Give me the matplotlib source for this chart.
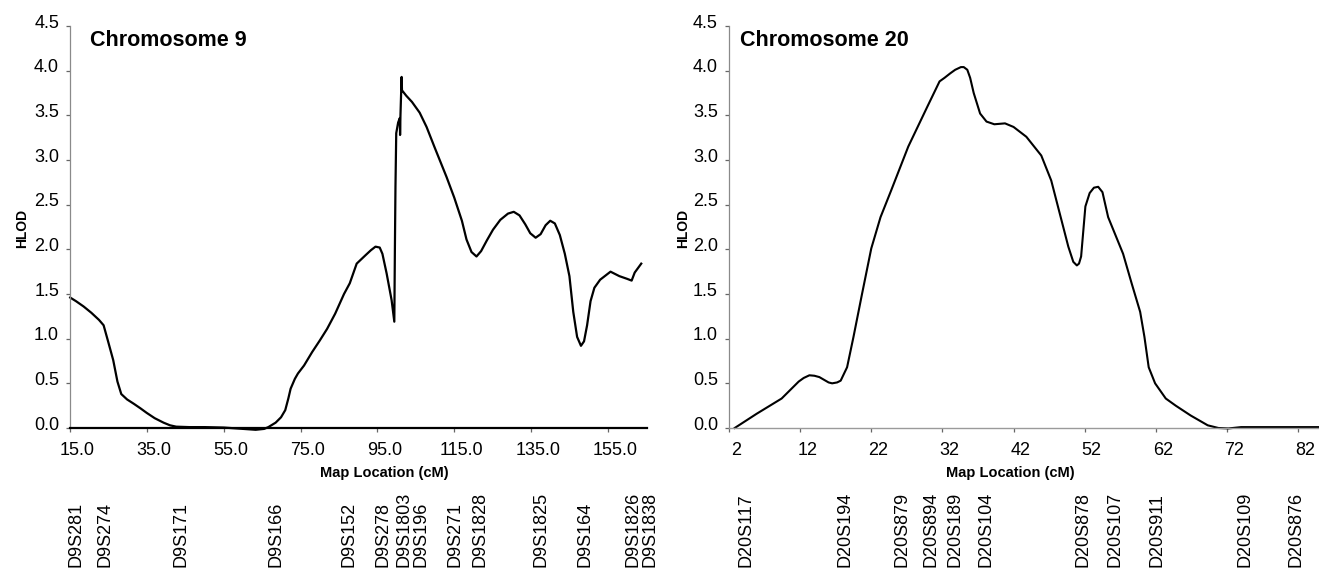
import matplotlib
matplotlib.use("Agg")
import matplotlib.pyplot as plt
from matplotlib.transforms import ScaledTranslation, blended_transform_factory

plt.rcParams['font.family'] = ['Liberation Sans', 'DejaVu Sans']

# ---------------- data ----------------
chr9_x = [15.0, 16.5, 18.5, 20.5, 22.5, 23.7, 24.8, 26.2, 27.3, 28.3, 29.8, 31.6, 33.3, 34.9,
          37.0, 39.3, 41.0, 42.6, 46.0, 50.0, 55.0, 60.0, 63.3, 65.5, 66.6, 68.5, 69.9, 71.0,
          71.8, 72.4, 73.5, 74.3, 75.9, 78.0, 80.0, 81.9, 84.0, 86.3, 87.8, 89.6, 91.8, 93.3,
          94.5, 95.6, 96.3, 97.4, 98.7, 99.40, 99.55, 99.70, 99.90, 100.40, 100.84, 100.90,
          101.00, 101.30, 101.40, 102.5, 104.0, 106.0, 107.8, 110.0, 113.0, 115.0, 117.0,
          118.2, 119.5, 120.8, 122.0, 123.5, 125.1, 127.0, 129.0, 130.5, 132.0, 133.5, 134.8,
          136.2, 137.5, 138.8, 140.0, 141.2, 142.5, 143.8, 145.0, 146.0, 147.0, 148.0, 148.8,
          149.6, 150.5, 151.5, 153.0, 155.7, 158.0, 160.0, 161.2, 162.0, 163.7]
chr9_y = [1.46, 1.42, 1.36, 1.29, 1.21, 1.15, 0.98, 0.76, 0.52, 0.38, 0.32, 0.27, 0.22, 0.17,
          0.11, 0.06, 0.03, 0.015, 0.01, 0.01, 0.005, -0.01, -0.02, -0.01, 0.01, 0.06, 0.12, 0.20,
          0.33, 0.44, 0.55, 0.61, 0.70, 0.85, 0.98, 1.11, 1.28, 1.50, 1.62, 1.84, 1.93, 1.99,
          2.03, 2.02, 1.95, 1.73, 1.43, 1.19, 2.00, 2.70, 3.30, 3.42, 3.47, 3.28,
          3.50, 3.93, 3.78, 3.72, 3.65, 3.53, 3.37, 3.13, 2.81, 2.58, 2.32,
          2.11, 1.97, 1.92, 1.98, 2.10, 2.22, 2.33, 2.40, 2.42, 2.38, 2.28, 2.18,
          2.13, 2.17, 2.27, 2.32, 2.29, 2.16, 1.95, 1.70, 1.30, 1.02, 0.92, 0.97,
          1.15, 1.42, 1.57, 1.66, 1.75, 1.70, 1.67, 1.65, 1.74, 1.84]

chr20_x = [2.8, 5.9, 9.4, 11.8, 12.5, 13.3, 14.0, 14.7, 16.0, 16.5, 17.2, 17.7, 18.6, 19.5,
           20.7, 22.0, 23.3, 24.8, 27.2, 29.9, 31.6, 32.3, 33.1, 33.8, 34.6, 35.0, 35.5, 35.9,
           36.4, 37.3, 38.2, 39.3, 40.8, 42.0, 43.8, 45.9, 47.3, 48.5, 49.7, 50.4, 50.9, 51.2,
           51.5, 52.1, 52.7, 53.3, 53.9, 54.5, 55.3, 57.4, 58.6, 59.8, 60.4, 61.0, 61.9, 63.4,
           64.8, 66.9, 69.3, 70.8, 72.2, 74.0, 85.0]
chr20_y = [0.0, 0.16, 0.33, 0.52, 0.56, 0.59, 0.585, 0.57, 0.51, 0.50, 0.51, 0.53, 0.68, 1.02,
           1.50, 2.01, 2.36, 2.66, 3.15, 3.60, 3.88, 3.92, 3.97, 4.01, 4.04, 4.04, 4.01, 3.92,
           3.75, 3.52, 3.43, 3.40, 3.41, 3.37, 3.26, 3.05, 2.77, 2.40, 2.03, 1.86, 1.82, 1.84,
           1.92, 2.48, 2.63, 2.69, 2.70, 2.64, 2.36, 1.95, 1.62, 1.30, 1.02, 0.68, 0.50, 0.33,
           0.25, 0.14, 0.03, 0.0, -0.005, 0.01, 0.01]

chr9_markers = ['D9S281', 'D9S274', 'D9S171', 'D9S166', 'D9S152', 'D9S278', 'D9S1803',
                'D9S196', 'D9S271', 'D9S1828', 'D9S1825', 'D9S164', 'D9S1826', 'D9S1838']
chr9_marker_pos = [16.5, 24.1, 43.9, 68.6, 87.6, 96.4, 101.9, 106.3, 115.2, 121.7,
                   137.5, 149.0, 161.5, 165.9]

chr20_markers = ['D20S117', 'D20S194', 'D20S879', 'D20S894', 'D20S189', 'D20S104',
                 'D20S878', 'D20S107', 'D20S911', 'D20S109', 'D20S876']
chr20_marker_pos = [4.4, 18.3, 26.3, 30.4, 33.8, 38.1, 51.8, 56.3, 62.2, 74.6, 81.7]

chr9_xticks = [15, 35, 55, 75, 95, 115, 135, 155]
chr9_xticklabels = ['15.0', '35.0', '55.0', '75.0', '95.0', '115.0', '135.0', '155.0']
chr20_xticks = [2, 12, 22, 32, 42, 52, 62, 72, 82]
chr20_xticklabels = ['2', '12', '22', '32', '42', '52', '62', '72', '82']
yticks = [0.0, 0.5, 1.0, 1.5, 2.0, 2.5, 3.0, 3.5, 4.0, 4.5]

# ---------------- figure ----------------
W, H = 1319, 569
fig = plt.figure(figsize=(W / 100, H / 100), dpi=100)


def px_box(x0, x1, ytop, ybot):
    return [x0 / W, 1 - ybot / H, (x1 - x0) / W, (ybot - ytop) / H]


def style_axes(ax, xlim, xticks, xticklabels, bottom_dark):
    ax.set_xlim(*xlim)
    ax.set_ylim(0, 4.5)
    ax.set_yticks(yticks)
    ax.set_yticklabels(['%.1f' % v for v in yticks])
    ax.set_xticks(xticks)
    ax.set_xticklabels(xticklabels)
    for s in ['top', 'right']:
        ax.spines[s].set_visible(False)
    ax.spines['left'].set_color('#8a8a8a')
    ax.spines['left'].set_linewidth(0.9)
    if bottom_dark:
        ax.spines['bottom'].set_color('black')
        ax.spines['bottom'].set_linewidth(1.6)
    else:
        ax.spines['bottom'].set_color('#9a9a9a')
        ax.spines['bottom'].set_linewidth(1.0)
    ax.tick_params(axis='both', direction='out', length=3, width=0.9, color='#666666',
                   labelsize=13, labelcolor='black')
    ax.tick_params(axis='y', pad=5)
    ax.tick_params(axis='x', pad=7)
    for lab in ax.get_xticklabels():
        lab.set_transform(lab.get_transform() + ScaledTranslation(7 / 100, 0, fig.dpi_scale_trans))
    for lab in ax.get_yticklabels():
        lab.set_transform(lab.get_transform() + ScaledTranslation(0, 5 / 100, fig.dpi_scale_trans))
    ax.patch.set_visible(False)


# Chromosome 9
ax1 = fig.add_axes(px_box(70.2, 647, 26, 428))
ax1.plot(chr9_x, chr9_y, color='black', lw=1.6, clip_on=False, solid_joinstyle='round')
style_axes(ax1, (15, 165.2), chr9_xticks, chr9_xticklabels, True)
fig.text(90 / W, 1 - 40 / H, 'Chromosome 9', fontsize=15.5, fontweight='bold',
         ha='left', va='center')
fig.text(21.7 / W, 1 - 228 / H, 'HLOD', rotation=90, fontsize=10, fontweight='bold',
         ha='center', va='center')
fig.text(384 / W, 1 - 473 / H, 'Map Location (cM)', fontsize=10.5, fontweight='bold',
         ha='center', va='center')
tr1 = blended_transform_factory(ax1.transData, fig.transFigure)
for name, pos in zip(chr9_markers, chr9_marker_pos):
    ax1.text(pos, 2 / H, name, rotation=90, ha='center', va='bottom', fontsize=13,
             transform=tr1, clip_on=False)

# Chromosome 20
ax2 = fig.add_axes(px_box(729, 1318, 26, 428))
ax2.plot(chr20_x, chr20_y, color='black', lw=1.5, clip_on=False, solid_joinstyle='round')
style_axes(ax2, (2, 84.8), chr20_xticks, chr20_xticklabels, False)
fig.text(740 / W, 1 - 40 / H, 'Chromosome 20', fontsize=15.5, fontweight='bold',
         ha='left', va='center')
fig.text(683 / W, 1 - 228 / H, 'HLOD', rotation=90, fontsize=10, fontweight='bold',
         ha='center', va='center')
fig.text(1010 / W, 1 - 473 / H, 'Map Location (cM)', fontsize=10.5, fontweight='bold',
         ha='center', va='center')
tr2 = blended_transform_factory(ax2.transData, fig.transFigure)
for name, pos in zip(chr20_markers, chr20_marker_pos):
    ax2.text(pos, 2 / H, name, rotation=90, ha='center', va='bottom', fontsize=13,
             transform=tr2, clip_on=False)

fig.savefig('out.png', dpi=100)
